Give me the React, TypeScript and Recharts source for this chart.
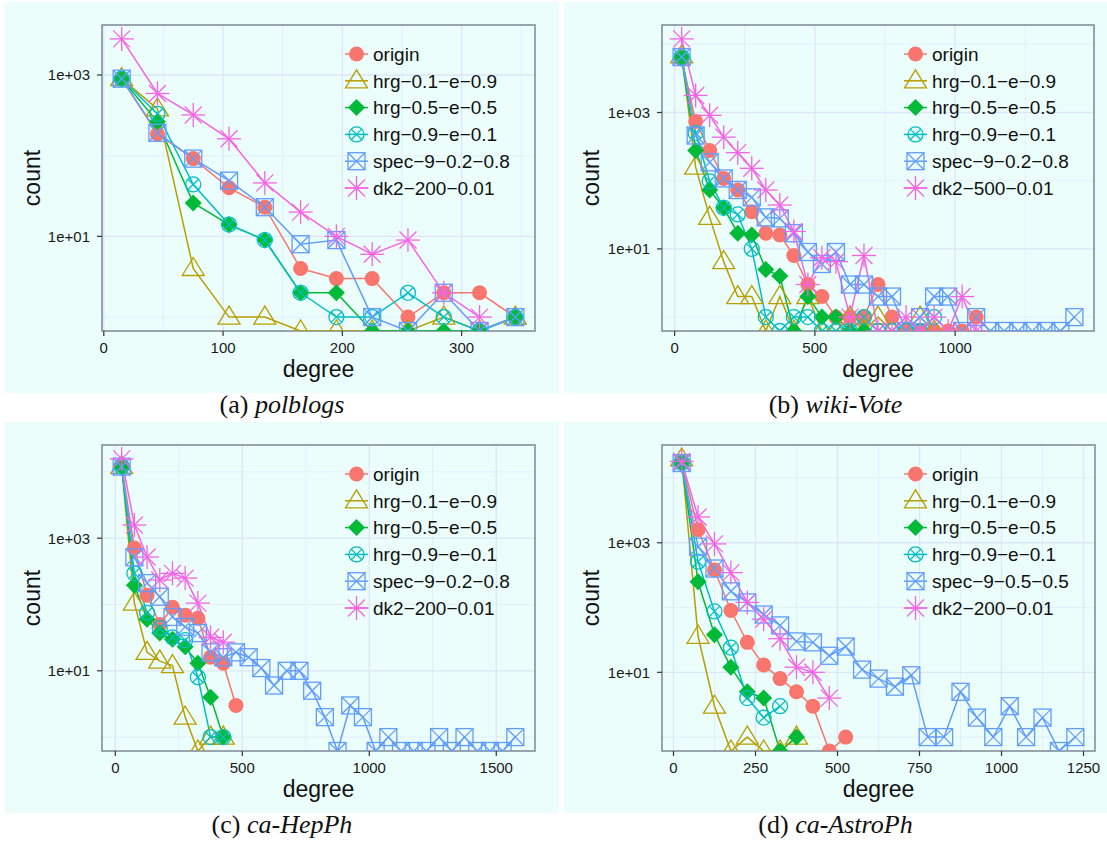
import React from 'react';
import { LineChart, Line, XAxis, YAxis, CartesianGrid, ReferenceArea } from 'recharts';

// ---- (a) polblogs ----
const degreeA = [15, 45, 75, 105, 135, 165, 195, 225, 255, 285, 315, 345];
const originA = [890, 186, 92, 40, 23, 4, 3, 3, 1, 2, 2, 1];
const hrg01A = [900, 380, 4, 1, 1, 0, 0, 0, 0, 1, 0, 1];
const hrg05A = [900, 263, 26, 14, 9, 2, 2, 0, 0, 0, 0, 1];
const hrg09A = [900, 330, 44, 14, 9, 2, 1, 1, 2, 1, 0, 1];
const specA = [900, 192, 92, 49, 23, 8, 9, 1, 0, 2, 0, 1];
const dk2A = [2800, 590, 320, 162, 46, 20, 10, 6, 9, 2, 1];
const labelsA = ['origin', 'hrg−0.1−e−0.9', 'hrg−0.5−e−0.5', 'hrg−0.9−e−0.1', 'spec−9−0.2−0.8', 'dk2−200−0.01'];
const xTicksA = [0, 100, 200, 300];
const xMinorA = [50, 150, 250, 350];

// ---- (b) wiki-Vote ----
const degreeB = [25, 75, 125, 175, 225, 275, 325, 375, 425, 475, 525, 575, 625, 675, 725, 775, 825, 875, 925, 975, 1025, 1075, 1125, 1175, 1225, 1275, 1325, 1375, 1425];
const originB = [6100, 740, 277, 108, 73, 35, 17, 16, 8, 3, 2, 1, 1, 1, 3, 1, 0, 0, 0, 0, 0, 1];
const hrg01B = [6800, 158, 29, 6.5, 2, 2, 0, 2, 0, 2, 0, 0, 1, 0, 1, 0, 0, 1, 0];
const hrg05B = [6500, 277, 73, 40, 17, 16, 5, 4, 0, 2, 1, 1, 0, 0];
const hrg09B = [6500, 500, 98, 40, 32, 10, 1, 0, 1, 1, 0, 0, 0, 1, 0, 0, 0, 0, 1];
const specB = [6500, 460, 186, 108, 73, 57, 29, 28, 17, 9, 6, 9, 3, 3, 2, 2, 0, 1, 2, 2, 0, 1, 0, 0, 0, 0, 0, 0, 1];
const dk2B = [12000, 1780, 910, 435, 258, 152, 73, 44, 18, 3, 7.4, 6.5, 1, 8, 0, 0, 1, 0, 1, 0, 2, 0];
const labelsB = ['origin', 'hrg−0.1−e−0.9', 'hrg−0.5−e−0.5', 'hrg−0.9−e−0.1', 'spec−9−0.2−0.8', 'dk2−500−0.01'];
const xTicksB = [0, 500, 1000];
const xMinorB = [250, 750, 1250];

// ---- (c) ca-HepPh ----
const degreeC = [25, 75, 125, 175, 225, 275, 325, 375, 425, 475, 525, 575, 625, 675, 725, 775, 825, 875, 925, 975, 1025, 1075, 1125, 1175, 1225, 1275, 1325, 1375, 1425, 1475, 1525, 1575];
const originC = [12500, 710, 138, 50, 91, 69, 62, 16, 13, 3];
const hrg01C = [12000, 105, 19, 14, 12, 2, 0, 1, 1];
const hrg05C = [12000, 195, 60, 37, 30, 23, 13, 4, 1];
const hrg09C = [12000, 295, 75, 44, 32, 29, 8, 1, 1];
const specC = [12000, 515, 210, 131, 65, 46, 37, 19, 16, 19, 16, 11, 6, 10, 10, 5, 2, 0, 3, 2, 0, 1, 0, 0, 0, 1, 0, 1, 0, 0, 0, 1];
const dk2C = [15700, 1580, 520, 234, 295, 250, 105, 32, 27];
const labelsC = ['origin', 'hrg−0.1−e−0.9', 'hrg−0.5−e−0.5', 'hrg−0.9−e−0.1', 'spec−9−0.2−0.8', 'dk2−200−0.01'];
const xTicksC = [0, 500, 1000, 1500];
const xMinorC = [250, 750, 1250];

// ---- (d) ca-AstroPh ----
const degreeD = [25, 75, 125, 175, 225, 275, 325, 375, 425, 475, 525, 575, 625, 675, 725, 775, 825, 875, 925, 975, 1025, 1075, 1125, 1175, 1225];
const originD = [17600, 1590, 380, 90, 29, 13, 8, 5, 3, 0, 1];
const hrg01D = [19700, 36, 3, 0, 1, 0, 0, 1];
const hrg05D = [17000, 250, 38, 12, 5, 4, 0, 1];
const hrg09D = [17000, 510, 87, 24, 4, 2, 3];
const specD = [17000, 870, 400, 178, 120, 78, 53, 30, 29, 18, 25, 11, 8, 6, 9, 1, 1, 5, 2, 1, 3, 1, 2, 0, 1];
const dk2D = [18000, 2500, 960, 346, 120, 66, 33, 12, 10, 4];
const labelsD = ['origin', 'hrg−0.1−e−0.9', 'hrg−0.5−e−0.5', 'hrg−0.9−e−0.1', 'spec−9−0.5−0.5', 'dk2−200−0.01'];
const xTicksD = [0, 250, 500, 750, 1000, 1250];
const xMinorD = [125, 375, 625, 875, 1125];

const yTicks = [10, 1000];
const yMinor = [1, 100, 10000];

const COLORS = ['#F8766D', '#B79F00', '#00BA38', '#00BFC4', '#619CFF', '#F564E3'];
const SHAPES = ['circle', 'triangle', 'diamond', 'circleX', 'squareX', 'star'];
const FONT = '"Liberation Sans", Arial, Helvetica, sans-serif';
const SERIF = '"Liberation Serif", "DejaVu Serif", serif';
const BG = '#ebfefc';
const GRID = '#dde5f8';
const BORDER = '#7f8894';
const H = 391;

const panels = [
  { tag: '(a)', name: 'polblogs', left: 5, top: 2, width: 554, pl: 97, pr: 24, degrees: degreeA, series: [originA, hrg01A, hrg05A, hrg09A, specA, dk2A], labels: labelsA, xTicks: xTicksA, xMinor: xMinorA },
  { tag: '(b)', name: 'wiki-Vote', left: 564, top: 2, width: 543, pl: 98, pr: 13, degrees: degreeB, series: [originB, hrg01B, hrg05B, hrg09B, specB, dk2B], labels: labelsB, xTicks: xTicksB, xMinor: xMinorB },
  { tag: '(c)', name: 'ca-HepPh', left: 5, top: 422, width: 554, pl: 97, pr: 24, degrees: degreeC, series: [originC, hrg01C, hrg05C, hrg09C, specC, dk2C], labels: labelsC, xTicks: xTicksC, xMinor: xMinorC },
  { tag: '(d)', name: 'ca-AstroPh', left: 564, top: 422, width: 543, pl: 98, pr: 12, degrees: degreeD, series: [originD, hrg01D, hrg05D, hrg09D, specD, dk2D], labels: labelsD, xTicks: xTicksD, xMinor: xMinorD },
];

function Marker({ shape, cx, cy, color }: any) {
  switch (shape) {
    case 'circle':
      return <circle cx={cx} cy={cy} r={7.5} fill={color} />;
    case 'triangle':
      return <polygon points={`${cx},${cy - 11} ${cx - 11},${cy + 7} ${cx + 11},${cy + 7}`} fill="none" stroke={color} strokeWidth={1.3} />;
    case 'diamond':
      return <polygon points={`${cx},${cy - 8.5} ${cx + 8.5},${cy} ${cx},${cy + 8.5} ${cx - 8.5},${cy}`} fill={color} />;
    case 'circleX': {
      const d = 5.3;
      return (
        <g stroke={color} strokeWidth={1.3} fill="none">
          <circle cx={cx} cy={cy} r={7.5} />
          <line x1={cx - d} y1={cy - d} x2={cx + d} y2={cy + d} />
          <line x1={cx - d} y1={cy + d} x2={cx + d} y2={cy - d} />
        </g>
      );
    }
    case 'squareX': {
      const h = 8.5;
      return (
        <g stroke={color} strokeWidth={1.3} fill="none">
          <rect x={cx - h} y={cy - h} width={2 * h} height={2 * h} />
          <line x1={cx - h} y1={cy - h} x2={cx + h} y2={cy + h} />
          <line x1={cx - h} y1={cy + h} x2={cx + h} y2={cy - h} />
        </g>
      );
    }
    default: {
      const h = 12, d = 8.5;
      return (
        <g stroke={color} strokeWidth={1.3}>
          <line x1={cx - h} y1={cy} x2={cx + h} y2={cy} />
          <line x1={cx} y1={cy - h} x2={cx} y2={cy + h} />
          <line x1={cx - d} y1={cy - d} x2={cx + d} y2={cy + d} />
          <line x1={cx - d} y1={cy + d} x2={cx + d} y2={cy - d} />
        </g>
      );
    }
  }
}

function Panel({ p }: any) {
  const xs: number[] = p.degrees;
  const positive = p.series.flat().filter((v: number) => v > 0);
  const M = Math.log10(Math.max(...positive));
  // ggplot-style 5% expansion on log scale
  const lo = Math.pow(10, -0.05 * M);
  const hi = Math.pow(10, 1.05 * M);
  const xr = xs[xs.length - 1] - xs[0];
  const xlo = xs[0] - 0.05 * xr;
  const xhi = xs[xs.length - 1] + 0.05 * xr;

  // zero counts go to the panel edge, as -Inf does in ggplot
  const rows = xs.map((x, i) => {
    const r: any = { x };
    p.series.forEach((s: number[], j: number) => {
      const v = s[i];
      r['s' + j] = v == null ? null : v === 0 ? lo : v;
    });
    return r;
  });

  const plotW = p.width - p.pl - p.pr;
  const plotTop = 23;
  const plotBottom = H - 62;
  const tickStyle = { fill: '#1a1a1a', fontSize: 15, fontFamily: FONT };

  return (
    <div style={{ position: 'absolute', left: p.left, top: p.top, width: p.width, height: H, background: BG }}>
      <LineChart width={p.width} height={H} data={rows} margin={{ top: plotTop, right: p.pr, bottom: 32, left: p.pl - 60 }}>
        <CartesianGrid stroke={GRID} strokeWidth={0.6} horizontalValues={yMinor.filter((v) => v > lo && v < hi)} verticalValues={p.xMinor} />
        <CartesianGrid stroke={GRID} strokeWidth={1.3} horizontalValues={yTicks} verticalValues={p.xTicks} />
        <XAxis type="number" dataKey="x" domain={[xlo, xhi]} ticks={p.xTicks} interval={0} allowDataOverflow
          axisLine={false} tickLine={{ stroke: '#333', strokeWidth: 1.2 }} tickSize={5} tickMargin={6} height={30} tick={tickStyle} />
        <YAxis type="number" scale="log" domain={[lo, hi]} ticks={yTicks} interval={0} allowDataOverflow
          axisLine={false} tickLine={{ stroke: '#333', strokeWidth: 1.2 }} tickSize={5} tickMargin={7} width={60} tick={tickStyle}
          tickFormatter={(v: number) => `1e+${String(Math.round(Math.log10(v))).padStart(2, '0')}`} />
        {p.series.map((_: any, j: number) => (
          <Line key={'l' + j} type="linear" dataKey={'s' + j} stroke={COLORS[j]} strokeWidth={1.5} dot={false} activeDot={false} isAnimationActive={false} />
        ))}
        {p.series.map((_: any, j: number) => (
          <Line key={'p' + j} type="linear" dataKey={'s' + j} stroke="none" activeDot={false} isAnimationActive={false}
            dot={(d: any) => d.cy == null || d.value == null
              ? <g key={`e${j}-${d.index}`} />
              : <Marker key={`m${j}-${d.index}`} shape={SHAPES[j]} cx={d.cx} cy={d.cy} color={COLORS[j]} />} />
        ))}
        <ReferenceArea x1={xlo} x2={xhi} y1={lo} y2={hi} fill="none" stroke={BORDER} strokeWidth={1.5} ifOverflow="visible" />
      </LineChart>

      <svg width={p.width} height={H} style={{ position: 'absolute', left: 0, top: 0, pointerEvents: 'none' }}>
        {p.labels.map((lab: string, j: number) => {
          const y = 52 + j * 26.8;
          return (
            <g key={lab}>
              <line x1={340} x2={363} y1={y} y2={y} stroke={COLORS[j]} strokeWidth={1.5} />
              <Marker shape={SHAPES[j]} cx={351.5} cy={y} color={COLORS[j]} />
              <text x={368} y={y} dy="0.36em" fontSize={19} fontFamily={FONT} fill="#111">{lab}</text>
            </g>
          );
        })}
      </svg>

      <div style={{ position: 'absolute', left: p.pl, width: plotW, top: 358.5, fontSize: 23, lineHeight: '17px', textAlign: 'center', fontFamily: FONT, color: '#111' }}>
        degree
      </div>
      <div style={{ position: 'absolute', left: 26.5, top: (plotTop + plotBottom) / 2, transform: 'translate(-50%, -50%) rotate(-90deg)', fontSize: 23, lineHeight: '23px', whiteSpace: 'nowrap', fontFamily: FONT, color: '#111' }}>
        count
      </div>
    </div>
  );
}

export default function App() {
  return (
    <div style={{ position: 'absolute', left: 0, top: 0, width: 1107, height: 846, background: '#fff', overflow: 'hidden' }}>
      {panels.map((p) => (
        <React.Fragment key={p.tag}>
          <Panel p={p} />
          <div style={{ position: 'absolute', left: p.left, width: p.width, top: p.top + 388, height: 29, lineHeight: '29px', textAlign: 'center', fontFamily: SERIF, fontSize: 26, color: '#111' }}>
            {p.tag} <i>{p.name}</i>
          </div>
        </React.Fragment>
      ))}
    </div>
  );
}
